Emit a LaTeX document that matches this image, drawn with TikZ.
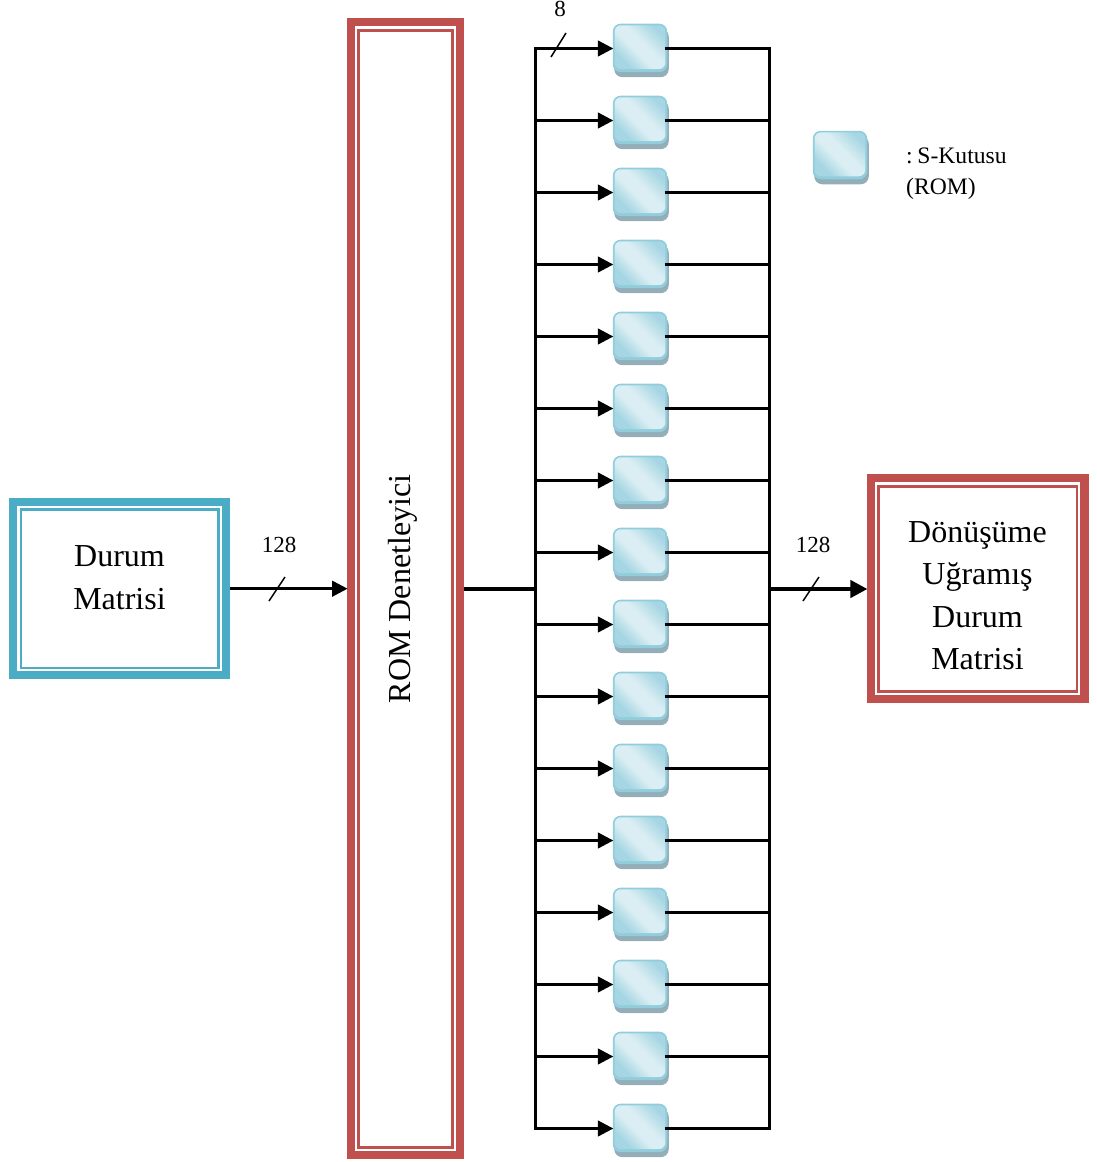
\documentclass[tikz,border=0pt]{standalone}
\usepackage{fontspec}
\setmainfont{Liberation Serif}
\usetikzlibrary{arrows.meta,shadows,calc}
\definecolor{fred}{HTML}{C0504D}
\definecolor{fteal}{HTML}{4BACC6}
\definecolor{sedge}{HTML}{92CDDC}
\definecolor{sdark}{HTML}{A6D6E3}
\definecolor{slight}{HTML}{DAEEF3}
\definecolor{sshadow}{HTML}{93AEB8}
\pgfdeclareverticalshading{sgrad}{100bp}{color(0bp)=(sdark); color(28bp)=(sdark); color(44bp)=(slight); color(56bp)=(slight); color(76bp)=(sdark); color(100bp)=(sdark)}
\tikzset{
  frameouter/.style={draw=#1,line width=8.4pt,fill=white,inner sep=0pt},
  frameinner/.style={draw=#1,line width=2.6pt,inner sep=0pt},
  sbox/.style={fill=sedge,rounded corners=8pt,minimum width=54.5pt,minimum height=48.5pt,inner sep=0pt,outer sep=0pt,
    drop shadow={shadow xshift=1.5pt,shadow yshift=-5pt,fill=sshadow,opacity=1}},
  sface/.style={rounded corners=6.5pt,shading=sgrad,shading angle=-45},
  wire/.style={draw=black,line width=2.8pt},
  wirearrow/.style={wire,-{Triangle[length=15.5pt,width=15.5pt]},shorten >=-0.6pt},
  busin/.style={draw=black,line width=3.6pt},
  busout/.style={draw=black,line width=4pt,-{Triangle[length=17pt,width=17pt]},shorten >=-0.5pt},
  tick/.style={draw=black,line width=1.5pt},
  big/.style={font=\fontsize{32}{42.5}\selectfont,align=center,inner sep=0pt},
  small/.style={font=\fontsize{23}{32}\selectfont,inner sep=0pt},
  legendtext/.style={font=\fontsize{23.6}{32}\selectfont,inner sep=0pt}
}
\newcommand{\sfaceat}[1]{\shade[sface] ($(#1.north west)+(1.8,1.6)$) rectangle ($(#1.south east)+(-2,-3)$);}
\begin{document}
\begin{tikzpicture}[x=1pt,y=-1pt]
\useasboundingbox (0,0) rectangle (1096,1162);
% frames
\node[frameouter=fteal,minimum width=212.6pt,minimum height=172.9pt] (durum) at (119.5,588.7) {};
\node[frameinner=fteal,minimum width=197.5pt,minimum height=158.5pt] (durumi) at (119.75,588.7) {};
\node[big] (durumt) at (119.5,577.5) {Durum\\Matrisi};
\node[frameouter=fred,minimum width=108.6pt,minimum height=1133pt] (rom) at (405.5,588.7) {};
\node[frameinner=fred,minimum width=94.2pt,minimum height=1117.5pt] (romi) at (405.6,589) {};
\node[big,rotate=90] (romt) at (403,589) {ROM Denetleyici};
\node[frameouter=fred,minimum width=213.3pt,minimum height=220.9pt] (donus) at (977.8,588.7) {};
\node[frameinner=fred,minimum width=198.3pt,minimum height=204.8pt] (donusi) at (977.65,588.9) {};
\node[big] (donust) at (977.5,595.7) {Dönüşüme\\Uğramış\\Durum\\Matrisi};
% bus
\coordinate (lt) at (535.5,48.5);
\coordinate (lb) at (535.5,1128.5);
\coordinate (rt) at (769.5,48.5);
\coordinate (rb) at (769.5,1128.5);
\coordinate (lm) at (535.5,589);
\coordinate (rm) at (769.5,589);
\draw[wire,line cap=rect] (lt) -- (lb);
\draw[wire,line cap=rect] (rt) -- (rb);
\foreach \i [evaluate=\i as \yy using {48.5+72*(\i-1)}] in {1,...,16} {
  \node[sbox] (s\i) at (640,\yy-0.6) {};
  \sfaceat{s\i}
  \coordinate (la\i) at (535.5,\yy);
  \coordinate (ra\i) at (769.5,\yy);
  \draw[wirearrow] (la\i) -- (s\i.west |- la\i);
  \draw[wire] ([xshift=-2pt]s\i.east |- ra\i) -- (ra\i);
}
% main connectors
\draw[wirearrow] (durum.east |- 0,588.7) -- (rom.west |- 0,588.7);
\draw[busin] (rom.east |- lm) -- (lm);
\draw[busout] (rm) -- (donus.west |- rm);
% ticks
\coordinate (ta1) at (551,57); \coordinate (ta2) at (566,33);
\coordinate (tb1) at (269,601); \coordinate (tb2) at (285,577);
\coordinate (tc1) at (803,601); \coordinate (tc2) at (819,577);
\draw[tick] (ta1) -- (ta2);
\draw[tick] (tb1) -- (tb2);
\draw[tick] (tc1) -- (tc2);
% labels
\node[small] (l8) at (560,9) {8};
\node[small] (l128a) at (279,544.5) {128};
\node[small] (l128b) at (813,544.5) {128};
% legend
\node[sbox] (leg) at (840,155) {};
\sfaceat{leg}
\node[legendtext,anchor=west] (legt1) at (906,155.5) {:\kern-1.2pt\ S-Kutusu};
\node[legendtext,anchor=west] (legt2) at (906,189) {(ROM)};
\end{tikzpicture}
\end{document}
